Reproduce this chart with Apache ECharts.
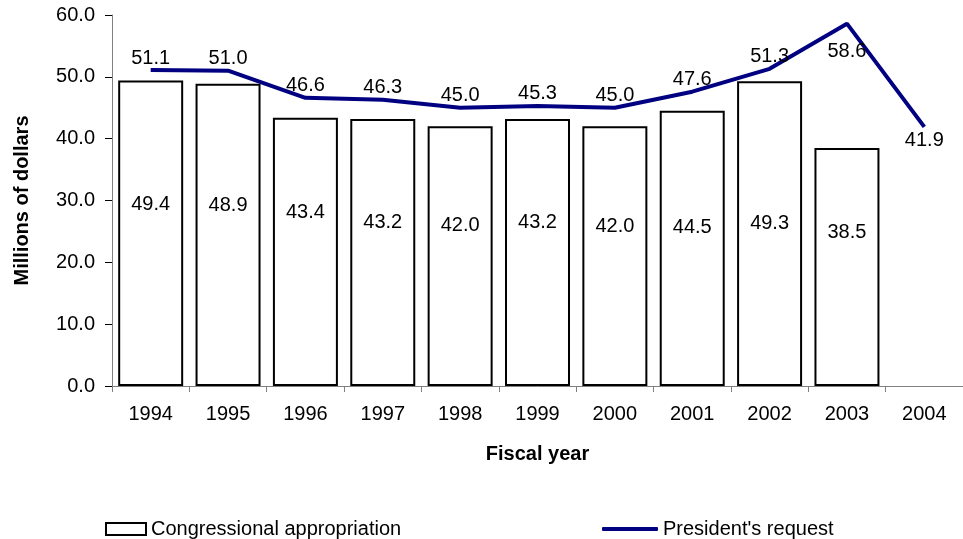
<!DOCTYPE html>
<html>
<head>
<meta charset="utf-8">
<title>Congressional appropriation and President's request</title>
<script src="https://cdn.jsdelivr.net/npm/echarts@6/dist/echarts.min.js"></script>
<style>
  html, body { margin: 0; padding: 0; background: #ffffff; }
  #chart { width: 963px; height: 539px; }
</style>
</head>
<body>
<div id="chart"></div>
<script>
// Fiscal years on the category axis
const years = ['1994', '1995', '1996', '1997', '1998', '1999', '2000', '2001', '2002', '2003', '2004'];
// Congressional appropriation, millions of dollars (none yet for 2004)
const appropriation = [49.4, 48.9, 43.4, 43.2, 42.0, 43.2, 42.0, 44.5, 49.3, 38.5, null];
// President's request, millions of dollars
const request = [51.1, 51.0, 46.6, 46.3, 45.0, 45.3, 45.0, 47.6, 51.3, 58.6, 41.9];
// Value axis tick range
const yTicks = { min: 0, max: 60, step: 10 };

const FONT = '"Liberation Sans", Arial, sans-serif';
const NAVY = '#000080';

// Vertical nudge (px) of each bar's value label from the bar's middle
const barLabelNudge = [-29, -29, -39, -30, -31, -30, -30, -21, -10, -34, 0];

// Years whose request label sits under the line instead of over it
const labelBelow = { '2003': 18, '2004': 4 };

const appropriationData = appropriation.map((v, i) => ({
  value: v,
  label: { offset: [0, barLabelNudge[i]] }
}));

const requestData = request.map((v, i) => {
  const below = labelBelow[years[i]];
  return below === undefined
    ? { value: v }
    : { value: v, label: { position: 'bottom', distance: below } };
});

const chart = echarts.init(document.getElementById('chart'), null, { renderer: 'canvas' });

chart.setOption({
  backgroundColor: '#ffffff',
  animation: false,
  textStyle: { fontFamily: FONT },
  grid: { left: 112, right: -6, top: 15, bottom: 153, containLabel: false },
  legend: [
    {
      data: [{ name: 'Congressional appropriation', icon: 'rect' }],
      left: 100, top: 514,
      itemWidth: 40, itemHeight: 12,
      textStyle: { fontSize: 20, color: '#000', fontFamily: FONT },
      itemStyle: { color: '#ffffff', borderColor: '#000', borderWidth: 2 }
    },
    {
      data: [{ name: "President's request", icon: 'roundRect' }],
      left: 597, top: 514,
      itemWidth: 56, itemHeight: 4,
      textStyle: { fontSize: 20, color: '#000', fontFamily: FONT },
      itemStyle: { color: NAVY, borderWidth: 0, opacity: 1 }
    }
  ],
  xAxis: {
    type: 'category',
    data: years,
    boundaryGap: true,
    name: 'Fiscal year',
    nameLocation: 'middle',
    nameGap: 58,
    nameTextStyle: { fontSize: 20, fontWeight: 'bold', color: '#000', fontFamily: FONT },
    axisLine: { lineStyle: { color: '#808080', width: 1 } },
    axisTick: { show: true, length: 6, lineStyle: { color: '#808080' } },
    axisLabel: { fontSize: 20, color: '#000', margin: 18, fontFamily: FONT },
    splitLine: { show: false }
  },
  yAxis: {
    type: 'value',
    min: yTicks.min,
    max: yTicks.max,
    interval: yTicks.step,
    name: 'Millions of dollars',
    nameLocation: 'middle',
    nameGap: 80,
    nameRotate: 90,
    nameTextStyle: { fontSize: 20, fontWeight: 'bold', color: '#000', fontFamily: FONT },
    axisLine: { show: true, lineStyle: { color: '#808080', width: 1 } },
    axisTick: { show: true, length: 7, lineStyle: { color: '#000' } },
    axisLabel: {
      fontSize: 20, color: '#000', margin: 17, fontFamily: FONT,
      formatter: v => v.toFixed(1)
    },
    splitLine: { show: false }
  },
  series: [
    {
      name: 'Congressional appropriation',
      type: 'bar',
      data: appropriationData,
      barCategoryGap: '16%',
      itemStyle: { color: '#ffffff', borderColor: '#000', borderWidth: 2 },
      label: {
        show: true, position: 'inside', fontSize: 20, color: '#000', fontFamily: FONT,
        formatter: p => p.value.toFixed(1)
      },
      z: 2
    },
    {
      name: "President's request",
      type: 'line',
      data: requestData,
      symbol: 'circle',
      symbolSize: 0.01,
      itemStyle: { color: NAVY },
      lineStyle: { color: NAVY, width: 4 },
      label: {
        show: true, position: 'top', distance: 2, fontSize: 20, color: '#000', fontFamily: FONT,
        formatter: p => p.value.toFixed(1)
      },
      z: 3
    }
  ]
});
</script>
</body>
</html>
